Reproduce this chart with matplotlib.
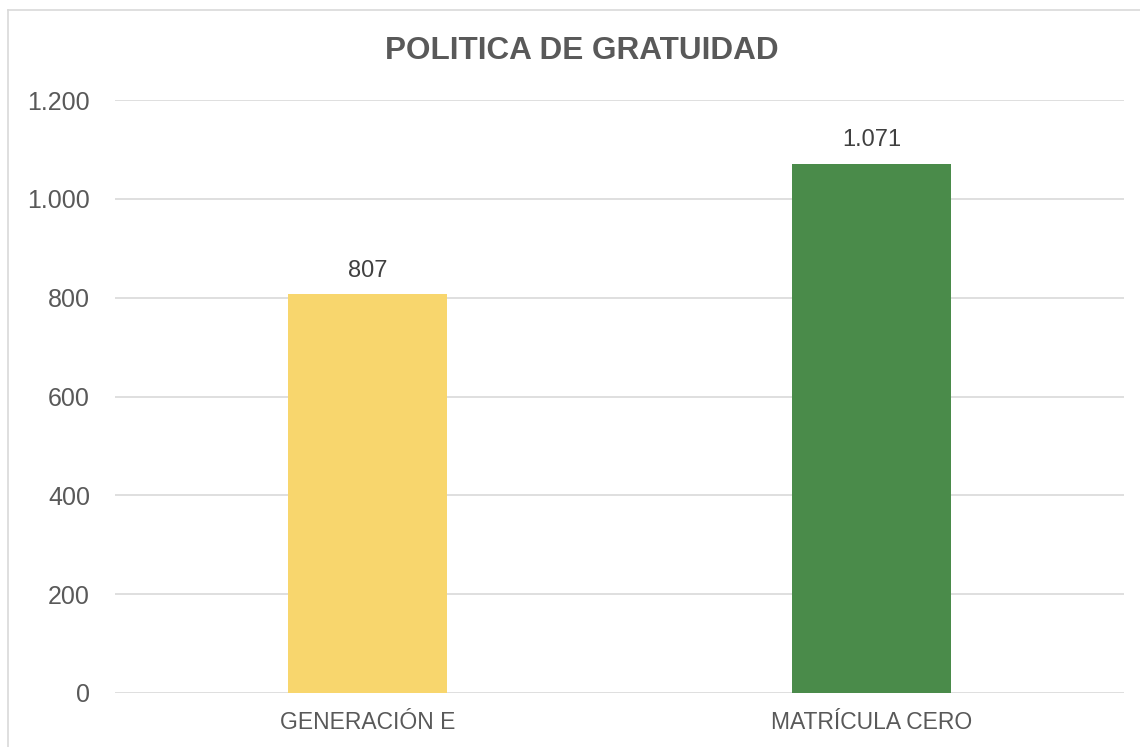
import matplotlib.pyplot as plt
from matplotlib.lines import Line2D

categorias = ["GENERACIÓN E", "MATRÍCULA CERO"]
valores = [807, 1071]
colores = ["#F8D66D", "#4A8B4A"]
ticks_y = [0, 200, 400, 600, 800, 1000, 1200]

def fmt(v):
    return f"{v:,}".replace(",", ".")

plt.rcParams['font.family'] = ['Liberation Sans', 'DejaVu Sans']
gris = "#595959"

fig = plt.figure(figsize=(11.4, 7.47), dpi=100)
ax = fig.add_axes([0.1009, 0.0723, 0.885, 0.7937])

x = range(len(categorias))
barras = ax.bar(x, valores, width=0.316, color=colores, zorder=3)
for b, v in zip(barras, valores):
    ax.annotate(fmt(v), (b.get_x() + b.get_width() / 2, v), xytext=(0, 9),
                textcoords="offset points", ha="center", va="bottom",
                fontsize=17, color="#404040")

ax.set_xlim(-0.5, 1.5)
ax.set_ylim(0, 1200)
ax.set_yticks(ticks_y)
ax.set_yticklabels([fmt(t) for t in ticks_y])
ax.set_xticks(list(x))
ax.set_xticklabels(categorias)
ax.tick_params(axis="y", length=0, pad=18, labelsize=18, labelcolor=gris)
ax.tick_params(axis="x", length=0, pad=13, labelsize=16.5, labelcolor=gris)
ax.grid(axis="y", color="#D9D9D9", linewidth=1.2, zorder=0)
for s in ax.spines.values():
    s.set_visible(False)

fig.text(582 / 1140, 1 - 51 / 747, "POLITICA DE GRATUIDAD", ha="center", va="center",
         fontsize=22.7, fontweight="bold", color=gris)

# borde del grafico
fig.add_artist(Line2D([8 / 1140, 8 / 1140], [0, 1 - 10 / 747], color="#D9D9D9", lw=1.2))
fig.add_artist(Line2D([8 / 1140, 1], [1 - 10 / 747, 1 - 10 / 747], color="#D9D9D9", lw=1.2))

fig.savefig("out.png", dpi=100)
